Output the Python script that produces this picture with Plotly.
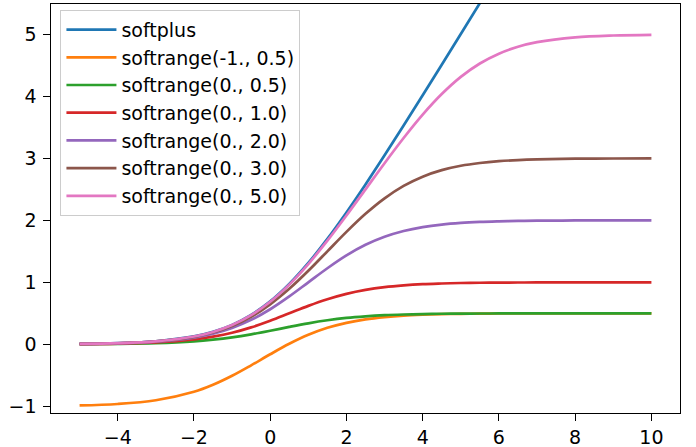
import plotly.graph_objects as go

x_values = [-5, -4, -3, -2, -1.5, -1, -0.5, 0, 0.5, 1, 1.5, 2, 2.5, 3, 3.5, 4,
            4.5, 5, 5.5, 6, 6.5, 7, 8, 9, 10]

softplus = [0.007, 0.018, 0.049, 0.127, 0.201, 0.313, 0.474, 0.693, 0.974, 1.313,
            1.701, 2.127, 2.579, 3.049, 3.530, 4.018, 4.511, 5.007, 5.504, 6.002,
            6.502, 7.001, 8.000, 9.000, 10.000]
softrange_m1_05 = [-0.986, -0.963, -0.903, -0.766, -0.653, -0.508, -0.339, -0.161, 0.008,
                   0.153, 0.266, 0.347, 0.403, 0.439, 0.463, 0.477, 0.486, 0.491, 0.495,
                   0.497, 0.498, 0.499, 0.4996, 0.4999, 0.5]
softrange_0_05 = [0.003, 0.007, 0.019, 0.048, 0.075, 0.112, 0.161, 0.219, 0.281, 0.339,
                  0.388, 0.426, 0.452, 0.470, 0.481, 0.488, 0.493, 0.496, 0.497, 0.498,
                  0.499, 0.4994, 0.4998, 0.4999, 0.5]
softrange_0_1 = [0.004, 0.011, 0.030, 0.078, 0.123, 0.186, 0.273, 0.380, 0.500, 0.620,
                 0.727, 0.814, 0.878, 0.922, 0.951, 0.970, 0.981, 0.989, 0.993, 0.996,
                 0.997, 0.9985, 0.9994, 0.9998, 0.9999]
softrange_0_2 = [0.006, 0.016, 0.042, 0.109, 0.172, 0.265, 0.395, 0.566, 0.773, 1.000,
                 1.227, 1.434, 1.605, 1.735, 1.828, 1.891, 1.932, 1.958, 1.974, 1.984,
                 1.991, 1.994, 1.998, 1.999, 2.000]
softrange_0_3 = [0.006, 0.017, 0.046, 0.120, 0.190, 0.295, 0.444, 0.645, 0.895, 1.186,
                 1.500, 1.814, 2.105, 2.355, 2.556, 2.705, 2.810, 2.880, 2.925, 2.954,
                 2.972, 2.983, 2.994, 2.998, 2.999]
softrange_0_5 = [0.007, 0.018, 0.048, 0.126, 0.200, 0.311, 0.470, 0.686, 0.963, 1.295,
                 1.672, 2.078, 2.500, 2.922, 3.328, 3.705, 4.037, 4.314, 4.530, 4.689,
                 4.800, 4.874, 4.952, 4.982, 4.993]

series_names = ["softplus", "softrange(-1., 0.5)", "softrange(0., 0.5)",
                "softrange(0., 1.0)", "softrange(0., 2.0)", "softrange(0., 3.0)",
                "softrange(0., 5.0)"]
series_values = [softplus, softrange_m1_05, softrange_0_05, softrange_0_1,
                 softrange_0_2, softrange_0_3, softrange_0_5]
colors = ["#1f77b4", "#ff7f0e", "#2ca02c", "#d62728", "#9467bd", "#8c564b", "#e377c2"]

x_ticks = [-4, -2, 0, 2, 4, 6, 8, 10]
x_tick_labels = ["\u22124", "\u22122", "0", "2", "4", "6", "8", "10"]
y_ticks = [-1, 0, 1, 2, 3, 4, 5]
y_tick_labels = ["\u22121", "0", "1", "2", "3", "4", "5"]

fig = go.Figure()
for i, (name, vals, col) in enumerate(zip(series_names, series_values, colors)):
    fig.add_trace(go.Scatter(
        x=x_values, y=vals, mode="lines", name=name,
        line=dict(color=col, width=2.7, shape="spline", smoothing=1.0),
        legendgroup="g%d" % i,
    ))

font = dict(family="DejaVu Sans", size=19, color="black")
axis_common = dict(
    showgrid=False, zeroline=False, showline=True, linecolor="black",
    linewidth=1.4, mirror=True, ticks="outside", ticklen=6.5, tickwidth=1.4,
    tickcolor="black", tickfont=font,
)
fig.update_layout(
    width=696, height=447,
    margin=dict(l=51, r=16, t=4, b=34),
    paper_bgcolor="white", plot_bgcolor="white",
    font=font,
    xaxis=dict(range=[-5.75, 10.75], tickvals=x_ticks, ticktext=x_tick_labels,
               automargin=False, **axis_common),
    yaxis=dict(range=[-1.108, 5.49], tickvals=y_ticks, ticktext=y_tick_labels,
               automargin=False, ticklabelstandoff=3, **axis_common),
    legend=dict(
        x=0.015, y=0.986, xanchor="left", yanchor="top",
        bgcolor="rgba(255,255,255,0.8)", bordercolor="#cccccc", borderwidth=1,
        font=font, tracegroupgap=0, itemwidth=50,
    ),
    showlegend=True,
)

fig.write_html("out.html", config={"displayModeBar": False},
               post_script="document.body.style.margin='0';")
